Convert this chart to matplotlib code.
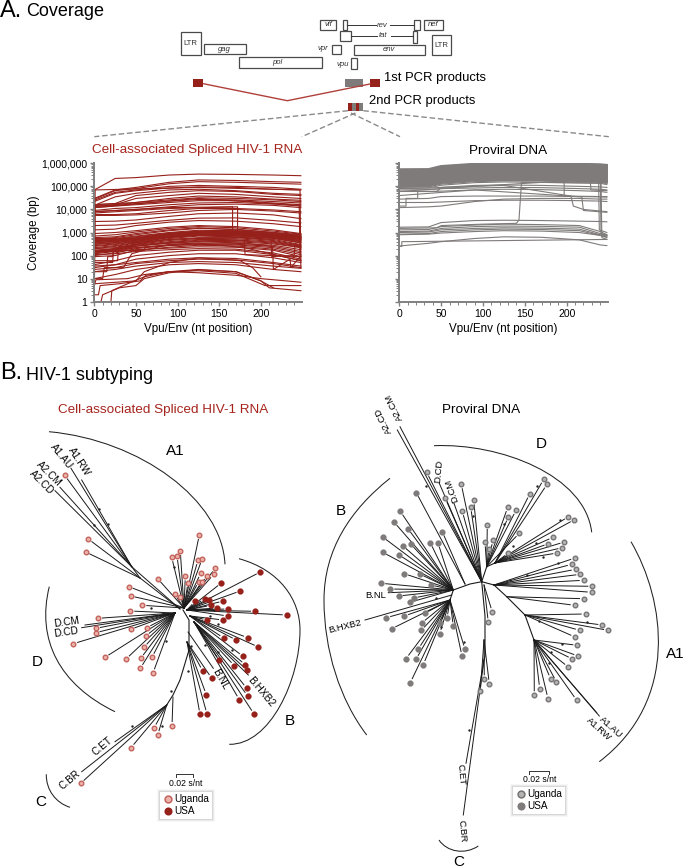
import numpy as np
import matplotlib
matplotlib.use('Agg')
import matplotlib.pyplot as plt
from matplotlib.patches import Rectangle, PathPatch
from matplotlib.path import Path
from matplotlib.ticker import FuncFormatter, LogLocator, MultipleLocator, NullFormatter

plt.rcParams['font.family'] = ['Liberation Sans', 'DejaVu Sans']

W, H = 685, 868
RED = '#96201a'
GRAY = '#7f7b7a'

# ---- coverage curves -----------------------------------------------------
red_x = [0, 25, 50, 90, 125, 170, 215, 248]
red_rows = [
    [70000, 220000, 240000, 310000, 340000, 330000, 310000, 290000],
    [30000, 70000, 90000, 150000, 190000, 180000, 160000, 150000],
    [28000, 65000, 80000, 130000, 160000, 150000, 135000, 125000],
    [25000, 55000, 70000, 100000, 110000, 100000, 90000, 75000],
    [22000, 50000, 65000, 85000, 95000, 90000, 75000, 70000],
    [15000, 35000, 50000, 70000, 75000, 65000, 50000, 45000],
    [16000, 18000, 40000, 55000, 65000, 60000, 45000, 40000],
    [13000, 16000, 30000, 40000, 50000, 45000, 35000, 30000],
    [15000, 16000, 20000, 30000, 38000, 35000, 28000, 25000],
    [16000, 18000, 20000, 26000, 32000, 30000, 26000, 22000],
    [14000, 15000, 18000, 23000, 27000, 26000, 22000, 19000],
    [12000, 14000, 16000, 20000, 24000, 24000, 19000, 16000],
    [9000, 11000, 12000, 16000, 19000, 20000, 17000, 14000],
    [8000, 9000, 10000, 13000, 16000, 17000, 15000, 12000],
    [6000, 6000, 6500, 9000, 11000, 11000, 9500, 8000],
    [5500, 5500, 5800, 7000, 9000, 10000, 8500, 7000],
    [3000, 3100, 3500, 5000, 6500, 7000, 5800, 4000],
    [2000, 2100, 2500, 3400, 4200, 4300, 3300, 2600],
    [1300, 1400, 2000, 2800, 3300, 3100, 2400, 1800],
    [900, 1000, 1200, 1700, 2000, 1800, 1300, 900],
    [700, 800, 1050, 1500, 1800, 1600, 1150, 850],
    [500, 600, 800, 1200, 1500, 1400, 1000, 800],
    [600, 650, 900, 1300, 1600, 1300, 1000, 750],
    [550, 550, 700, 1000, 1250, 1200, 950, 700],
    [480, 520, 650, 950, 1150, 1150, 900, 680],
    [450, 500, 600, 900, 1100, 1100, 850, 650],
    [420, 470, 570, 870, 1000, 1050, 820, 620],
    [400, 450, 550, 850, 1050, 1000, 800, 600],
    [370, 420, 520, 800, 1000, 950, 780, 570],
    [350, 400, 500, 750, 950, 900, 750, 550],
    [320, 370, 470, 720, 920, 870, 720, 520],
    [300, 350, 450, 700, 900, 850, 700, 500],
    [450, 450, 500, 700, 850, 800, 650, 450],
    [270, 320, 420, 680, 830, 820, 620, 430],
    [250, 300, 400, 650, 800, 800, 600, 400],
    [220, 270, 370, 620, 770, 740, 570, 370],
    [200, 250, 350, 600, 750, 700, 550, 350],
    [150, 200, 300, 550, 700, 650, 500, 300],
    [200, 220, 320, 500, 600, 600, 450, 280],
    [170, 200, 300, 450, 550, 540, 410, 260],
    [150, 180, 280, 400, 500, 480, 380, 250],
    [140, 170, 260, 370, 460, 440, 350, 230],
    [130, 160, 250, 350, 420, 400, 320, 220],
    [120, 150, 220, 300, 350, 340, 280, 180],
    [100, 130, 200, 280, 320, 310, 250, 150],
    [170, 180, 220, 270, 300, 290, 220, 130],
    [90, 100, 170, 230, 280, 260, 190, 110],
    [150, 150, 180, 210, 240, 230, 170, 90],
    [110, 120, 150, 180, 200, 190, 130, 70],
    [40, 60, 100, 140, 170, 170, 110, 60],
    [30, 40, 70, 100, 120, 120, 80, 50],
    [35, 40, 50, 70, 80, 75, 50, 35],
    [25, 30, 45, 60, 70, 65, 45, 30],
    [20, 25, 35, 50, 55, 50, 35, 28],
    [10, 15, 25, 40, 45, 40, 25, 20],
]
red_steps = [
    ([0, 90, 166, 166, 248], [8000, 12000, 13000, 1000, 600]),
    ([0, 90, 172, 172, 248], [7000, 11000, 13000, 900, 500]),
    ([0, 1, 125, 247, 248], [1, 70000, 90000, 70000, 30]),
    ([0, 1, 125, 246, 247], [3, 12000, 30000, 15000, 60]),
    ([0, 20, 21, 40, 60, 90, 125, 170, 200, 215], [1, 1, 3, 6, 12, 20, 25, 20, 8, 4]),
    ([0, 8, 10, 30, 50, 60, 90, 125, 170, 200, 210, 248], [1, 1, 2, 4, 5, 10, 18, 24, 20, 8, 4, 3]),
    ([0, 5, 7, 30, 55, 62, 90, 125, 170, 205, 248], [2, 2, 5, 6, 8, 14, 20, 22, 17, 5, 5]),
    ([0, 2, 5, 40, 60, 90, 125, 170, 200, 248], [5, 9, 9, 10, 15, 20, 18, 14, 10, 7]),
    ([0, 10, 12, 35, 45, 60, 90, 125, 180, 248], [10, 10, 30, 30, 120, 170, 300, 350, 220, 60]),
    ([0, 15, 16, 22, 23, 45, 46, 90, 125, 180, 181, 248], [20, 20, 90, 90, 200, 220, 350, 500, 550, 450, 110, 90]),
    ([0, 22, 23, 60, 62, 125, 180, 214, 215, 235, 236, 248], [50, 50, 160, 170, 300, 400, 350, 250, 25, 70, 30, 100]),
    ([0, 28, 29, 45, 46, 125, 212, 213, 240, 241, 248], [60, 60, 250, 260, 500, 800, 500, 90, 100, 300, 200]),
    ([0, 50, 60, 90, 125, 175, 190, 200], [6, 8, 20, 50, 80, 60, 30, 12]),
]

gray_x = [0, 35, 50, 90, 125, 170, 215, 240, 248]
# upper band, in thousands
gray_band = [
    [550, 560, 760, 950, 1000, 980, 950, 900, 850],
    [500, 510, 700, 900, 950, 950, 900, 850, 800],
    [450, 460, 640, 820, 870, 860, 800, 780, 720],
    [410, 420, 580, 750, 790, 780, 720, 700, 650],
    [370, 380, 520, 680, 720, 710, 650, 640, 590],
    [340, 345, 470, 610, 650, 640, 590, 570, 530],
    [300, 310, 430, 550, 590, 580, 530, 520, 480],
    [270, 280, 390, 500, 530, 525, 480, 470, 430],
    [245, 255, 350, 450, 480, 475, 435, 420, 390],
    [220, 230, 320, 410, 435, 430, 390, 380, 350],
    [200, 210, 290, 370, 395, 390, 355, 340, 310],
    [180, 190, 260, 335, 355, 350, 320, 310, 280],
    [165, 170, 235, 300, 320, 320, 290, 280, 250],
    [150, 155, 210, 270, 290, 285, 260, 250, 230],
    [135, 140, 190, 245, 260, 260, 235, 225, 205],
    [122, 127, 170, 220, 235, 235, 210, 200, 185],
    [110, 115, 155, 200, 212, 210, 190, 180, 165],
    [100, 105, 140, 180, 190, 190, 170, 165, 150],
]
gray_mid = [
    [90, 95, 125, 160, 172, 170, 155, 150, 135],
    [82, 85, 112, 145, 155, 150, 140, 135, 120],
    [80, 85, 90, 110, 115, 110, 100, 95, 90],
    [70, 72, 80, 85, 90, 88, 80, 75, 70],
    [60, 60, 62, 70, 75, 72, 65, 60, 55],
    [28, 30, 36, 38, 38, 38, 36, 35, 34],
    [20, 20, 21, 24, 25, 25, 24, 23, 22],
    [12, 13, 14, 22, 28, 30, 30, 28, 28],
]
gray_low = [
    [1700, 1750, 2700, 3300, 3400, 3300, 3100, 3000, 2900],
    [1300, 1350, 1800, 2100, 2300, 2200, 2000, 1100, 800],
    [1100, 1150, 1500, 1800, 1900, 1850, 1700, 900, 750],
    [1000, 1050, 1300, 1500, 1600, 1550, 1400, 800, 700],
    [850, 900, 1100, 1300, 1400, 1350, 1200, 750, 650],
    [800, 850, 950, 1100, 1200, 1150, 1000, 750, 600],
    [260, 340, 400, 550, 650, 620, 480, 290, 270],
]
gray_steps = [
    ([0, 45, 50, 100, 140, 143, 146, 248], [1500, 1600, 2000, 2300, 2500, 3500, 150000, 140000]),
    ([0, 90, 197, 197, 248], [60000, 100000, 170000, 38000, 36000]),
    ([0, 8, 8, 22, 22, 45, 50, 125, 205, 208, 220, 248], [14000, 14000, 30000, 30000, 60000, 60000, 90000, 110000, 38000, 14000, 10000, 8000]),
    ([0, 90, 218, 220, 248], [40000, 70000, 35000, 9000, 7500]),
    ([0, 90, 240, 241, 248], [300000, 600000, 600000, 900, 800]),
    ([0, 90, 238, 239, 248], [200000, 400000, 400000, 1300, 1000]),
    ([0, 90, 241, 242, 248], [100000, 200000, 180000, 600, 500]),
    ([0, 125, 228, 229, 248], [150000, 200000, 200000, 70000, 65000]),
    ([0, 3, 3, 248], [250, 250, 400, 500]),
]
xticks_major = [0, 50, 100, 150, 200]
yticks_major = [1, 10, 100, 1000, 10000, 100000, 1000000]

# ---- gene map, boxes as x0, x1, y0, y1 -----------------------------------
gene_boxes = {
    'LTR1': (181, 200.7, 32.3, 55.3), 'gag': (204.3, 246, 44.3, 54.3), 'pol': (239.3, 322.3, 57.3, 67.7),
    'vif': (320, 335.7, 20, 30), 'vpr': (331.7, 340.7, 44.7, 54.3), 'vpu': (350.7, 356.7, 58.3, 69.3),
    'rev1': (342.7, 347.3, 20.3, 30.3), 'tat1': (340.3, 350.7, 31, 40.7), 'rev2': (413.7, 420.3, 19.7, 30.3),
    'tat2': (413, 416.7, 31, 42.7), 'env': (354, 424.7, 44.7, 54.7), 'nef': (424.3, 442.7, 20, 30.3),
    'LTR2': (431.7, 451.3, 34.7, 55.3),
}
gene_labels = [('LTR', 190.7, 43.3, False), ('gag', 224, 49.3, True), ('pol', 277.7, 62.3, True),
               ('vif', 328.3, 25, True), ('vpr', 323.3, 49, True), ('vpu', 342.3, 64, True),
               ('rev', 382.3, 25.3, True), ('tat', 383.3, 35.7, True), ('env', 389, 49.3, True),
               ('nef', 433.3, 25, True), ('LTR', 441, 45.3, False)]

# ---- left tree (RNA), leaves in picture pixels -----------------------------
L_up = [(199.3, 535), (180.3, 551), (171.7, 557.3), (177, 556), (198, 560.3), (202, 559.3), (215.3, 568.3),
        (213.7, 574.3), (207, 575.7), (200.7, 573.3), (185.3, 576.3), (188, 582.7), (198.7, 581.7), (202, 581.7),
        (157.7, 578.7), (129, 586.7), (130.7, 596), (174.7, 594.3), (180.3, 596.7), (142.3, 605.3)]
L_a = [(64.7, 475.3), (88.3, 539), (85.7, 552)]
L_d = [(130.3, 611), (98, 618.3), (96, 628.3), (95.7, 632.7), (130.7, 629.3), (146.7, 627.7), (145.7, 636),
       (73.3, 643.7), (144, 647.3), (105, 657.3), (126, 659), (140.7, 658.3), (152, 657.3), (140.3, 668.3), (153, 673)]
L_c = [(172, 726), (154, 728), (157.7, 735), (131, 747.7), (80.7, 783.3)]
L_usa1 = [(260.3, 572), (221.3, 583), (240.3, 591), (195, 601.3), (204.7, 598.7), (209.3, 600), (223.3, 601),
          (211, 605.3), (217.3, 608), (228.3, 609), (255, 611.3), (286.7, 615), (227.7, 616)]
L_usa2 = [(207.3, 620), (223, 620), (223.7, 638), (236.3, 640), (247.7, 637.7), (258.3, 647), (243, 656.3)]
L_usa3 = [(234.3, 665.7), (245.3, 664.7), (247.3, 670.3), (219.3, 660.3), (246.7, 688.3), (247.7, 696), (239.3, 699.7), (254, 714)]
L_usa4 = [(202.7, 671), (211.7, 678.3), (206.3, 694.7), (200, 714.3), (207, 714)]
L_named = [((81.7, 480), (131.7, 566.7)), ((71, 468.3), (131.7, 566.7)), ((60, 487.3), (131.7, 566.7)),
           ((55, 490.7), (131.7, 566.7)), ((85, 625), (175, 613)), ((81.7, 627.7), (175, 613)),
           ((213.3, 668.3), (188, 632)), ((248.3, 675), (194, 622)), ((115, 741.7), (166.7, 705)),
           ((81.7, 771.7), (166.7, 705)), ((131.7, 566.7), (180, 609))]
L_stem = [(183, 610), (189, 620), (189, 650), (180, 680), (173, 695), (166.7, 705)]
L_stars = [(99.3, 509), (107.7, 523.7), (94, 524.7), (150.7, 608.3), (162.7, 613.3), (174, 567), (165.7, 640.7),
           (210.3, 616), (218.3, 624), (182.7, 602.3), (171, 691), (132.3, 726), (162.3, 726.3), (188.3, 671),
           (190.7, 645.7), (205, 645), (218.3, 651.7), (232.3, 650)]

# ---- right tree (DNA) -------------------------------------------------------
R_up = [(426.7, 472.3), (461.3, 484.3), (445.3, 498.3), (473.7, 500.3), (470.7, 507.3), (462.3, 511.3)]
R_d1 = [(507.7, 507.3), (516, 510.3), (508.3, 517), (487.3, 525), (519.3, 533.3), (485, 542.3), (493, 540.3), (489, 548.7)]
R_d2 = [(543.7, 479.3), (547, 484.3), (529.7, 494), (568.3, 516.7), (574.3, 519.7), (508.3, 553), (553, 537.3),
        (548.3, 543.7), (564.3, 542), (562.3, 547.7), (557.3, 553)]
R_a1 = [(575, 558), (571.7, 564.3), (575.7, 569.3), (580.3, 574.3), (583.7, 580.3), (592.3, 586.3), (591.7, 592.3)]
R_a2 = [(584, 598.7), (574.7, 605.3)]
R_a3 = [(585.7, 614), (602.3, 625), (608, 630.3), (579.7, 630.3), (575, 637)]
R_a4 = [(577.3, 645.3), (578, 656), (572.3, 659), (568.3, 667), (550.7, 679), (556.3, 681.7), (576.7, 700.3),
        (539.7, 688.7), (534.3, 695.3), (548, 698.7)]
R_mid = [(492.3, 612), (488.3, 622.3)]
R_cn = [(484.3, 679.3), (489.3, 683.7), (480.3, 691.3)]
R_usa1 = [(416.3, 492.7), (442.3, 531.7)]
R_usa2 = [(400.3, 511.3), (394, 522), (408, 528.7), (382.7, 537), (402.7, 545.7), (410.7, 544), (430.3, 542.7), (438, 543),
          (382.7, 552.3), (398.7, 554.7), (404.3, 573.7), (419.7, 574), (381.3, 583.3), (430.7, 585), (390.3, 589),
          (398.7, 596), (413.7, 598), (409.7, 602.3)]
R_usa3 = [(386.3, 617.7), (404.3, 616), (424.7, 613.3), (391.7, 628.7), (421.7, 623), (421.3, 630.3), (439.7, 633.7),
          (447, 618.3), (453.3, 626.3), (440.3, 622.7), (465, 649.3), (462, 656), (418.3, 649), (406, 658.7), (416, 659.3),
          (423.3, 664.7), (410.3, 682.7)]
R_named = [((397.3, 430), (481.7, 581.7)), ((400, 426.7), (481.7, 581.7)), ((439.3, 483.3), (481.7, 581.7)),
           ((454, 503.3), (481.7, 581.7)), ((388.3, 592.7), (453.3, 590)), ((365, 620), (451.7, 595)),
           ((599.3, 716), (534, 640)), ((596.7, 712.7), (534, 640)), ((466, 763.3), (484, 660)), ((463.3, 815), (484, 660))]
R_stems = [[(481.7, 581.7), (470, 584), (453.3, 590), (450, 600)],
           [(481.7, 581.7), (486.7, 566.7), (495, 563)],
           [(481.7, 581.7), (494, 585), (506.7, 596.7), (525, 615), (534, 640)],
           [(481.7, 581.7), (485, 616), (485, 656), (484, 660)]]
R_stars = [(425.7, 486), (472.7, 515.7), (504.3, 524), (513.3, 545.7), (536, 542.7), (543.3, 556.7), (537.3, 486),
           (560.3, 520.3), (557.7, 563.3), (526.7, 575), (510, 580), (436, 598), (539.3, 621), (587.3, 621.7),
           (562.3, 644), (550.7, 651.7), (464, 641.7), (440.7, 626.7), (549, 663.3), (469, 730)]

# ---- bracket arcs, cubic segments ------------------------------------------
L_arcs = [[(49, 431.7), (140, 440), (222, 500), (225, 564.3)],
          [(239, 558.7), (280, 570), (300, 600), (300, 630), (300, 680), (270, 745), (229.3, 744.3)],
          [(49.3, 586.7), (36, 640), (60, 685), (115, 711.7)],
          [(46.3, 774.3), (46, 790), (56, 803), (70, 807.3)]]
R_arcs = [[(434, 445.7), (500, 443), (585, 475), (591.7, 532.3)],
          [(390, 478.3), (350, 510), (324, 550), (324, 600), (324, 650), (340, 700), (366.7, 735)],
          [(631, 541.7), (665, 600), (680, 700), (599.3, 761.7)],
          [(439, 840), (447, 852), (465, 855), (478.3, 846)]]

fig = plt.figure(figsize=(W / 100, H / 100), dpi=100)


def cov_axes(x0, x1, top, bottom):
    a = fig.add_axes([x0 / W, 1 - bottom / H, (x1 - x0) / W, (bottom - top) / H])
    a.set_yscale('log')
    a.set_xlim(0, 249)
    a.set_ylim(1, 1000000)
    a.set_xticks(xticks_major)
    a.xaxis.set_minor_locator(MultipleLocator(10))
    a.set_yticks(yticks_major)
    a.yaxis.set_minor_locator(LogLocator(base=10, subs=np.arange(2, 10), numticks=12))
    a.yaxis.set_minor_formatter(NullFormatter())
    a.spines['top'].set_visible(False)
    a.spines['right'].set_visible(False)
    for s in ['left', 'bottom']:
        a.spines[s].set_color('#808080')
        a.spines[s].set_linewidth(1.4)
    a.tick_params(which='major', length=3, width=1, color='#808080', labelsize=7.5, pad=2)
    a.tick_params(which='minor', length=2, width=0.7, color='#808080')
    a.set_xlabel('Vpu/Env (nt position)', fontsize=8.4, labelpad=3)
    a.patch.set_alpha(0)
    return a


ax1 = cov_axes(94.3, 301.7, 163.3, 301.7)
for row in red_rows:
    ax1.plot(red_x, row, color=RED, lw=0.8)
for sx, sy in red_steps:
    ax1.plot(sx, sy, color=RED, lw=0.8)
ax1.yaxis.set_major_formatter(FuncFormatter(lambda v, p: f'{int(v):,}'))
ax1.set_ylabel('Coverage (bp)', fontsize=8.4, labelpad=1)

ax2 = cov_axes(399.3, 607.7, 163.3, 301.7)
for row in gray_band:
    ax2.plot(gray_x, np.array(row) * 1000, color=GRAY, lw=1.5)
for row in gray_mid:
    ax2.plot(gray_x, np.array(row) * 1000, color=GRAY, lw=0.8)
for row in gray_low:
    ax2.plot(gray_x, row, color=GRAY, lw=0.8)
for sx, sy in gray_steps:
    ax2.plot(sx, sy, color=GRAY, lw=0.8)
ax2.yaxis.set_major_formatter(NullFormatter())

# overlay in picture pixels for the schematic and the trees
ax = fig.add_axes([0, 0, 1, 1], zorder=5)
ax.set_xlim(0, W)
ax.set_ylim(H, 0)
ax.axis('off')
ax.patch.set_alpha(0)


def txt(x, y, s, size=8, rot=0, color='black', ha='center', style='normal'):
    ax.text(x, y, s, fontsize=size, rotation=rot, color=color, ha=ha, va='center', style=style,
            rotation_mode='anchor')


txt(0, 11, 'A.', 17, ha='left')
txt(26, 11, 'Coverage', 13, ha='left')
txt(0, 373, 'B.', 17, ha='left')
txt(26, 375, 'HIV-1 subtyping', 13, ha='left')

for name, (x0, x1, y0, y1) in gene_boxes.items():
    ax.add_patch(Rectangle((x0, y0), x1 - x0, y1 - y0, fc='white', ec='#4a4a4a', lw=0.9))
for s, x, y, it in gene_labels:
    txt(x, y, s, 5.6, style='italic' if it else 'normal', color='#333333')
ax.plot([347.3, 376], [25.3, 25.3], color='#333333', lw=0.7)
ax.plot([390.3, 413.7], [25.3, 25.3], color='#333333', lw=0.7)
ax.plot([350.7, 377.3], [35.7, 35.7], color='#333333', lw=0.7)
ax.plot([391, 413], [35.7, 35.7], color='#333333', lw=0.7)

ax.add_patch(Rectangle((193, 79), 10.3, 8, fc=RED, ec='none'))
ax.add_patch(Rectangle((370, 79), 10.3, 8, fc=RED, ec='none'))
ax.add_patch(Rectangle((345, 79), 17.7, 8, fc=GRAY, ec='none'))
ax.plot([203.3, 287.3, 370], [83.7, 100.7, 84], color='#b0403a', lw=1)
txt(384.3, 78.3, '1st PCR products', 9.4, ha='left')
ax.add_patch(Rectangle((347.7, 103), 15.6, 7.7, fc=GRAY, ec='none'))
ax.add_patch(Rectangle((348.3, 103), 3.7, 7.7, fc=RED, ec='none'))
ax.add_patch(Rectangle((355.7, 103), 3.6, 7.7, fc=RED, ec='none'))
txt(369.3, 101.3, '2nd PCR products', 9.4, ha='left')
for xa, ya, xb in [(348, 110.7, 94.3), (363.3, 110.7, 608.8), (355.5, 113, 301.8), (351, 113, 400)]:
    ax.plot([xa, xb], [ya, 136.7], color='#8a8a8a', lw=1, ls=(0, (4, 2)))

txt(197, 150.5, 'Cell-associated Spliced HIV-1 RNA', 9.7, color='#a5251d')
txt(508, 150.5, 'Proviral DNA', 9.7)
txt(163.3, 410, 'Cell-associated Spliced HIV-1 RNA', 9.7, color='#a5251d')
txt(481.3, 410, 'Proviral DNA', 9.7)


def branch(leaf, hub, trim=4.5):
    lx, ly = leaf
    d = np.hypot(hub[0] - lx, hub[1] - ly)
    ux, uy = (hub[0] - lx) / d, (hub[1] - ly) / d
    ax.plot([lx + ux * trim, hub[0]], [ly + uy * trim, hub[1]], color='#1a1a1a', lw=0.7, zorder=2)


def leaves(points, hub, fc, ec, edge=1.0, size=11):
    for p in points:
        branch(p, hub)
    ax.scatter([p[0] for p in points], [p[1] for p in points], s=size, c=fc, edgecolors=ec,
               linewidths=edge, zorder=3)


def arc(pts):
    codes = [Path.MOVETO] + [Path.CURVE4] * (len(pts) - 1)
    ax.add_patch(PathPatch(Path(pts, codes), fc='none', ec='#222222', lw=0.75))


RING_R = ('#eab4ad', '#c4635c')
RING_G = ('#b5b3b2', '#767474')
SOLID = 18
leaves(L_up, (184, 608), *RING_R)
leaves(L_a, (140, 578), *RING_R)
leaves(L_d, (175, 613), *RING_R)
leaves(L_c[:1], (173, 697), *RING_R)
leaves(L_c[1:], (166.7, 705), *RING_R)
leaves(L_usa1, (187, 610), RED, RED, 0.2, SOLID)
leaves(L_usa2, (190, 616), RED, RED, 0.2, SOLID)
leaves(L_usa3, (194, 622), RED, RED, 0.2, SOLID)
leaves(L_usa4, (187, 642), RED, RED, 0.2, SOLID)
for a_, b_ in L_named:
    ax.plot([a_[0], b_[0]], [a_[1], b_[1]], color='#1a1a1a', lw=0.7, zorder=2)
ax.plot([140, 180], [578, 609], color='#1a1a1a', lw=0.7)
ax.plot(*zip(*L_stem), color='#1a1a1a', lw=0.8)
ax.scatter(*zip(*L_stars), s=3, c='#222222', linewidths=0, zorder=4)
for c_ in L_arcs:
    arc(c_)

leaves(R_up, (481.7, 581.7), *RING_G)
leaves(R_d1, (486.7, 566.7), *RING_G)
leaves(R_d2, (495, 563), *RING_G)
leaves(R_a1, (494, 585), *RING_G)
leaves(R_a2, (506.7, 596.7), *RING_G)
leaves(R_a3, (525, 615), *RING_G)
leaves(R_a4, (534, 640), *RING_G)
leaves(R_mid, (484, 585), *RING_G)
leaves(R_cn, (484, 640), *RING_G)
leaves(R_usa1, (465, 584), GRAY, GRAY, 0.2, SOLID)
leaves(R_usa2, (453.3, 590), GRAY, GRAY, 0.2, SOLID)
leaves(R_usa3, (450, 600), GRAY, GRAY, 0.2, SOLID)
for a_, b_ in R_named:
    ax.plot([a_[0], b_[0]], [a_[1], b_[1]], color='#1a1a1a', lw=0.7, zorder=2)
for st in R_stems:
    ax.plot(*zip(*st), color='#1a1a1a', lw=0.8)
ax.scatter(*zip(*R_stars), s=3, c='#222222', linewidths=0, zorder=4)
for c_ in R_arcs:
    arc(c_)

for x, y, s, r in [(79.3, 461.7, 'A1.RW', -57), (61, 456, 'A1.AU', -51), (49, 474, 'A2.CM', -45), (41.7, 482.3, 'A2.CD', -45),
                   (67, 622.5, 'D.CM', 8), (66, 632.5, 'D.CD', 8), (220, 679.3, 'B.NL', -60), (261, 691.7, 'B.HXB2', -50),
                   (102.3, 746, 'C.ET', 40), (70, 780, 'C.BR', 40)]:
    txt(x, y, s, 7.3, rot=r)
for x, y, s, r in [(383.3, 420, 'A2.CD', 116), (394, 407, 'A2.CM', 116), (438.3, 471.7, 'D.CD', 85), (451.7, 490, 'D.CM', 110),
                   (376, 595.3, 'B.NL', 0), (345.3, 626.7, 'B.HXB2', 14), (610.7, 727.3, 'A1.AU', -42), (599.3, 729.3, 'A1.RW', -42),
                   (460.7, 775, 'C.ET', -85), (462.3, 830.7, 'C.BR', -85)]:
    txt(x, y, s, 6.8, rot=r)

for x, y, s in [(175, 450.7, 'A1'), (37.7, 661.7, 'D'), (290, 721, 'B'), (41, 801.7, 'C'),
                (541.3, 444.3, 'D'), (341, 511, 'B'), (675, 654, 'A1'), (458.3, 861.7, 'C')]:
    txt(x, y, s, 11)


def scale_legend(bx0, bx1, by, tx, ty, box, mx, my1, my2, tl, ring, solid):
    ax.plot([bx0, bx0, bx1, bx1], [by + 3, by, by, by + 3], color='#333333', lw=0.7)
    txt(tx, ty, '0.02 s/nt', 6.2)
    x0, y0, x1, y1 = box
    for g, al in [(3, 0.03), (2, 0.05), (1, 0.08)]:
        ax.add_patch(Rectangle((x0 - g, y0 - g), x1 - x0 + 2 * g, y1 - y0 + 2 * g, fc='black', ec='none', alpha=al, zorder=5))
    ax.add_patch(Rectangle((x0, y0), x1 - x0, y1 - y0, fc='white', ec='none', zorder=6))
    ax.scatter([mx], [my1], s=24, c=ring[0], edgecolors=ring[1], linewidths=1.1, zorder=7)
    ax.scatter([mx], [my2], s=34, c=solid, linewidths=0, zorder=7)
    ax.text(tl, my1, 'Uganda', fontsize=7.2, va='center', zorder=7)
    ax.text(tl, my2, 'USA', fontsize=7.2, va='center', zorder=7)


scale_legend(176, 192.7, 774.3, 185.3, 783.3, (160, 792, 212, 819), 167.7, 799.3, 811.3, 174.7, RING_R, RED)
scale_legend(529, 549, 770.7, 539.3, 779.3, (512.7, 786.7, 565, 814), 520.7, 794.3, 806, 527.3, RING_G, GRAY)

fig.savefig('out.png', dpi=100)
